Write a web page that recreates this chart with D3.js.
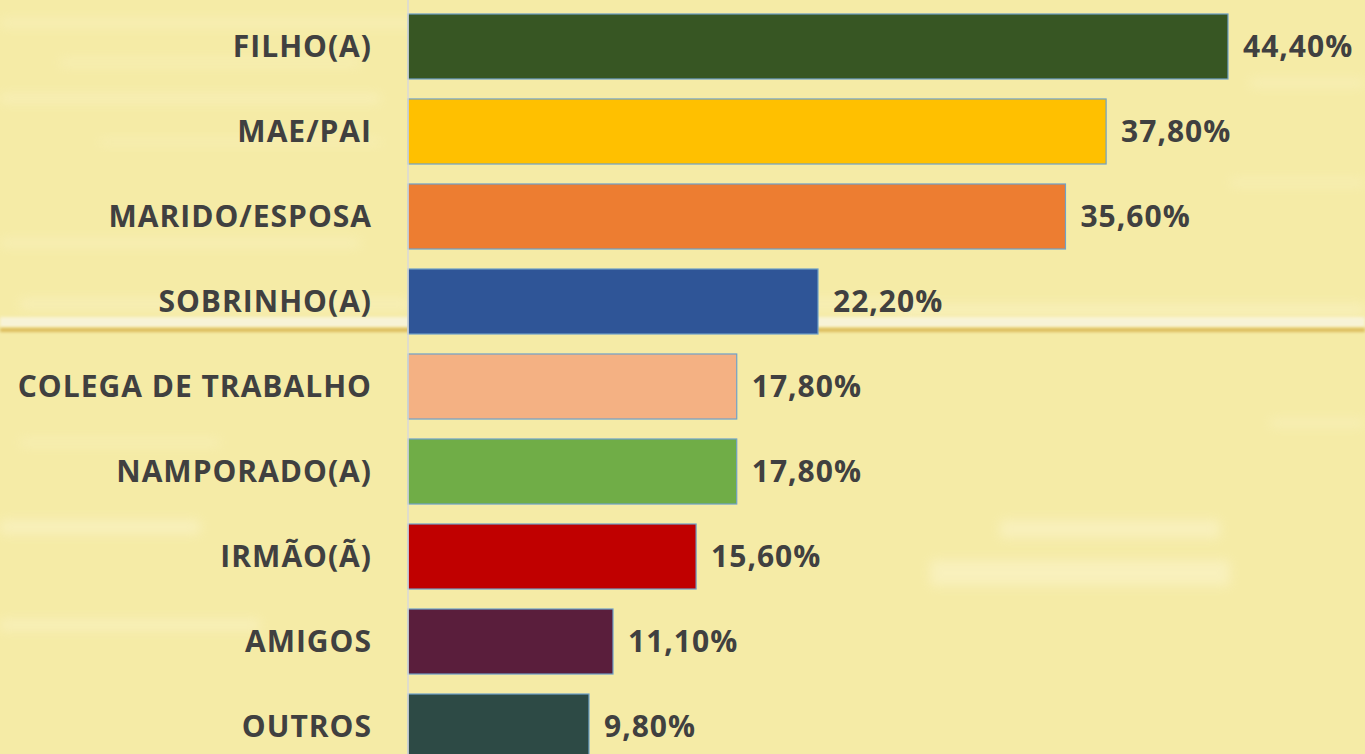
<!DOCTYPE html>
<html>
<head>
<meta charset="utf-8">
<script src="https://cdn.jsdelivr.net/npm/d3@7"></script>
<style>
  html, body { margin: 0; padding: 0; background: #f5eba6; overflow: hidden; }
  #chart { width: 1365px; height: 754px; }
</style>
</head>
<body>
<div id="chart"></div>
<script>
const categories = ['FILHO(A)', 'MAE/PAI', 'MARIDO/ESPOSA', 'SOBRINHO(A)', 'COLEGA DE TRABALHO',
    'NAMPORADO(A)', 'IRMÃO(Ã)', 'AMIGOS', 'OUTROS'];
const values = [44.4, 37.8, 35.6, 22.2, 17.8, 17.8, 15.6, 11.1, 9.8];
const colors = ['#375623', '#ffc000', '#ed7d31', '#2f5597', '#f4b183',
    '#70ad47', '#c00000', '#5a1e3c', '#2d4a45'];

const W = 1365, H = 754;
const data = categories.map((name, i) => ({ name, value: values[i], color: colors[i] }));

const svg = d3.select('#chart')
    .append('svg')
    .attr('width', W)
    .attr('height', H);

// fundo amarelo com textura de madeira
const defs = svg.append('defs');
defs.append('filter').attr('id', 'blur')
    .attr('x', '-20%').attr('y', '-200%').attr('width', '140%').attr('height', '500%')
    .append('feGaussianBlur').attr('stdDeviation', 6);
defs.append('filter').attr('id', 'blur2')
    .attr('x', '-5%').attr('y', '-200%').attr('width', '110%').attr('height', '500%')
    .append('feGaussianBlur').attr('stdDeviation', 1.5);

const bg = svg.append('g');
bg.append('rect').attr('width', W).attr('height', H).attr('fill', '#f5eba6');
const streaks = [
    [0, 20, 420, 6], [60, 60, 300, 5], [0, 95, 380, 7], [100, 140, 280, 4], [0, 240, 360, 6],
    [20, 300, 390, 8], [900, 305, 465, 10], [600, 300, 320, 8], [1250, 80, 115, 6],
    [930, 560, 300, 26], [1000, 520, 220, 18], [0, 520, 200, 14], [0, 620, 260, 10],
    [1230, 180, 135, 5], [1270, 420, 95, 6], [20, 440, 200, 5]
];
bg.selectAll('rect.streak').data(streaks).enter().append('rect')
    .attr('class', 'streak')
    .attr('x', d => d[0]).attr('y', d => d[1])
    .attr('width', d => d[2]).attr('height', d => d[3])
    .attr('fill', '#fffbe6').attr('opacity', 0.35)
    .attr('filter', 'url(#blur)');
// emenda da tábua
bg.append('rect').attr('x', 0).attr('y', 317).attr('width', W).attr('height', 10)
    .attr('fill', '#f8f4dc').attr('opacity', 0.9).attr('filter', 'url(#blur2)');
bg.append('rect').attr('x', 0).attr('y', 328).attr('width', W).attr('height', 4)
    .attr('fill', '#dcbc5c').attr('filter', 'url(#blur2)');

// escalas
const x = d3.scaleLinear()
    .domain([0, 44.4])
    .range([408, 1228]);

const y = d3.scaleBand()
    .domain(categories)
    .range([-6, 779])
    .padding(0.235);

const fmt = d3.formatLocale({ decimal: ',', thousands: '.', grouping: [3], currency: ['', ''] }).format('.2f');

const g = svg.append('g');

g.selectAll('rect.bar')
    .data(data)
    .enter()
    .append('rect')
    .attr('class', 'bar')
    .attr('x', x(0))
    .attr('y', d => y(d.name))
    .attr('width', d => x(d.value) - x(0))
    .attr('height', y.bandwidth())
    .attr('fill', d => d.color)
    .attr('stroke', '#6fa1c9')
    .attr('stroke-width', 1.2);

// eixo vertical
g.append('line')
    .attr('x1', x(0)).attr('x2', x(0))
    .attr('y1', 0).attr('y2', H)
    .attr('stroke', '#d9d9d9')
    .attr('stroke-width', 1.5);

// rótulos das categorias
g.selectAll('text.cat')
    .data(data)
    .enter()
    .append('text')
    .attr('class', 'cat')
    .attr('x', 372)
    .attr('y', d => y(d.name) + y.bandwidth() / 2)
    .attr('dy', '0.36em')
    .attr('text-anchor', 'end')
    .attr('font-family', '"Open Sans", sans-serif')
    .attr('font-weight', 'bold')
    .attr('font-size', 30)
    .attr('letter-spacing', 1)
    .attr('fill', '#404040')
    .text(d => d.name);

// valores
g.selectAll('text.val')
    .data(data)
    .enter()
    .append('text')
    .attr('class', 'val')
    .attr('x', d => x(d.value) + 15)
    .attr('y', d => y(d.name) + y.bandwidth() / 2)
    .attr('dy', '0.36em')
    .attr('font-family', '"Open Sans", sans-serif')
    .attr('font-weight', 'bold')
    .attr('font-size', 30)
    .attr('letter-spacing', 1)
    .attr('fill', '#404040')
    .text(d => fmt(d.value) + '%');
</script>
</body>
</html>
